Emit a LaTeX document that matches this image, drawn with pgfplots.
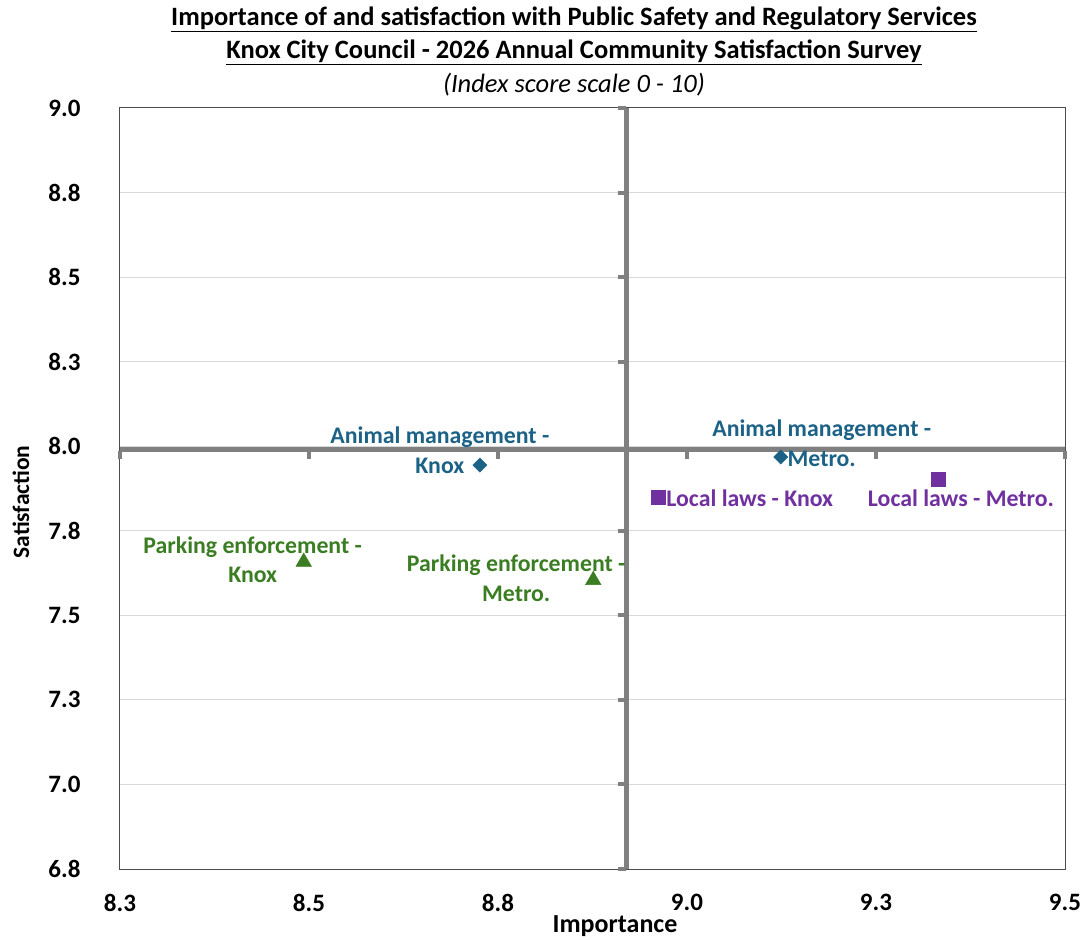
\documentclass[border=0pt]{standalone}
\usepackage{pgfplots}
\pgfplotsset{compat=1.18}
\usepackage{fontspec}
\setmainfont{Carlito}
\definecolor{amblue}{HTML}{1B6286}
\definecolor{llpurple}{HTML}{7030A0}
\definecolor{pegreen}{HTML}{3A7D22}
\definecolor{crossgray}{HTML}{808080}
\definecolor{gridgray}{HTML}{D9D9D9}
\begin{document}
\begin{tikzpicture}
\path[use as bounding box] (-120pt,-71pt) rectangle (970pt,869pt);
\begin{axis}[
  scale only axis,
  width=945pt, height=761pt,
  xmin=8.25, xmax=9.5, ymin=6.75, ymax=9.0,
  xtick={8.25,8.5,8.75,9.0,9.25,9.5},
  xticklabels={8.3,8.5,8.8,9.0,9.3,9.5},
  ytick={6.75,7.0,7.25,7.5,7.75,8.0,8.25,8.5,8.75,9.0},
  yticklabels={6.8,7.0,7.3,7.5,7.8,8.0,8.3,8.5,8.8,9.0},
  major tick length=0pt,
  tick label style={font=\fontsize{25}{28}\selectfont\bfseries},
  xticklabel style={yshift=-22pt},
  yticklabel style={xshift=-36pt},
  ymajorgrids, grid style={gridgray, line width=1pt},
  axis line style={draw=black!70, line width=1pt},
  clip=false,
]
% crosshair lines
\addplot[crossgray, line width=4.5pt, forget plot] coordinates {(8.92,6.75) (8.92,9.0)};
\addplot[crossgray, line width=4.5pt, forget plot] coordinates {(8.25,7.99) (9.5,7.99)};
% tick stubs on crosshair
\addplot[only marks, mark=-, mark size=4pt, mark options={crossgray, line width=4pt, xshift=-5pt}, forget plot]
  coordinates {(8.92,6.75) (8.92,7.0) (8.92,7.25) (8.92,7.5) (8.92,7.75) (8.92,8.25) (8.92,8.5) (8.92,8.75) (8.92,9.0)};
\addplot[only marks, mark=|, mark size=4pt, mark options={crossgray, line width=4pt, yshift=-5pt}, forget plot]
  coordinates {(8.25,7.99) (8.5,7.99) (8.75,7.99) (9.0,7.99) (9.25,7.99) (9.5,7.99)};
% data
\addplot[only marks, mark=square*, mark size=5pt, mark options={fill=amblue, draw=amblue, rotate=45}] coordinates {(8.726,7.944) (9.124,7.968)};
\addplot[only marks, mark=square*, mark size=7pt, mark options={fill=llpurple, draw=llpurple}] coordinates {(8.962,7.850) (9.332,7.903)};
\addplot[only marks, mark=triangle*, mark size=9pt, mark options={fill=pegreen, draw=pegreen}] coordinates {(8.493,7.658) (8.876,7.604)};
% data labels
\begin{scope}[every node/.style={font=\fontsize{23.8}{29.5}\selectfont\bfseries, align=center, inner sep=0pt}]
\node[text=amblue] at (axis cs:8.726,7.944) [xshift=-40pt, yshift=15pt] {Animal management -\\Knox};
\node[text=amblue] at (axis cs:9.124,7.968) [xshift=41pt, yshift=14pt] {Animal management -\\Metro.};
\node[text=llpurple, anchor=west] at (axis cs:8.962,7.850) [xshift=8pt, yshift=-1pt] {Local laws - Knox};
\node[text=llpurple] at (axis cs:9.332,7.903) [xshift=23pt, yshift=-19pt] {Local laws - Metro.};
\node[text=pegreen] at (axis cs:8.493,7.658) [xshift=-51pt, yshift=2pt] {Parking enforcement -\\Knox};
\node[text=pegreen] at (axis cs:8.876,7.604) [xshift=-77pt, yshift=2pt] {Parking enforcement -\\Metro.};
\end{scope}
\end{axis}
% titles and axis labels
\node[font=\fontsize{26.5}{30}\selectfont\bfseries] at (454pt,850pt) {\underline{Importance of and satisfaction with Public Safety and Regulatory Services}};
\node[font=\fontsize{26.5}{30}\selectfont\bfseries] at (454pt,817pt) {\underline{Knox City Council - 2026 Annual Community Satisfaction Survey}};
\node[font=\fontsize{26.5}{30}\selectfont\itshape] at (454pt,784pt) {(Index score scale 0 - 10)};
\node[font=\fontsize{26}{30}\selectfont\bfseries] at (495pt,-57pt) {Importance};
\node[font=\fontsize{23.5}{28}\selectfont\bfseries, rotate=90] at (-99pt,367pt) {Satisfaction};
\end{tikzpicture}
\end{document}
